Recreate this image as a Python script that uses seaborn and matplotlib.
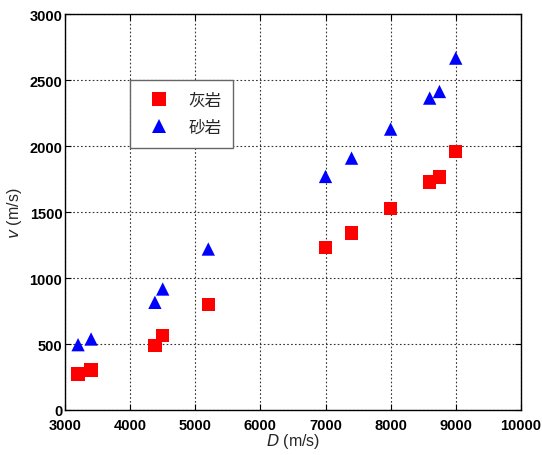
import matplotlib
matplotlib.use("Agg")
import matplotlib.pyplot as plt
import seaborn as sns
import pandas as pd

# Data
x_limestone = [3200, 3400, 4380, 4500, 5200, 7000, 7400, 8000, 8600, 8750, 9000]
v_limestone = [273, 303, 487, 563, 800, 1232, 1341, 1528, 1727, 1765, 1960]
x_sandstone = [3200, 3400, 4380, 4500, 5200, 7000, 7400, 8000, 8600, 8750, 9000]
v_sandstone = [495, 538, 816, 917, 1220, 1770, 1909, 2129, 2364, 2414, 2667]
series_names = ["灰岩", "砂岩"]
x_ticks = [3000, 4000, 5000, 6000, 7000, 8000, 9000, 10000]
y_ticks = [0, 500, 1000, 1500, 2000, 2500, 3000]

sns.set_theme(style="white")
plt.rcParams['font.family'] = ['Liberation Sans', 'Noto Sans CJK SC', 'DejaVu Sans']

df = pd.concat([
    pd.DataFrame({"D": x_limestone, "v": v_limestone, "rock": series_names[0]}),
    pd.DataFrame({"D": x_sandstone, "v": v_sandstone, "rock": series_names[1]}),
], ignore_index=True)

fig = plt.figure(figsize=(5.42, 4.56), dpi=100)
ax = fig.add_axes([0.120, 0.0987, 0.841, 0.868])

sns.scatterplot(data=df, x="D", y="v", hue="rock", style="rock",
                palette={series_names[0]: "#ff0000", series_names[1]: "#0000ff"},
                markers={series_names[0]: "s", series_names[1]: "^"},
                s=92, edgecolor="none", linewidth=0, ax=ax, zorder=3)

ax.set_xlim(3000, 10000)
ax.set_ylim(0, 3000)
ax.set_xticks(x_ticks)
ax.set_yticks(y_ticks)
ax.set_xticklabels([str(t) for t in x_ticks], fontweight="bold", fontsize=10.5)
ax.set_yticklabels([str(t) for t in y_ticks], fontweight="bold", fontsize=10.5)
ax.grid(True, color="#333333", linestyle=(0, (1.5, 2)), linewidth=0.8)
ax.set_axisbelow(True)
ax.tick_params(direction="in", length=4, width=0.8, top=True, right=True,
               bottom=True, left=True, colors="black")
ax.tick_params(axis="x", pad=6)
ax.tick_params(axis="y", pad=2)
for sp in ax.spines.values():
    sp.set_color("black")
    sp.set_linewidth(1.0)

ax.set_xlabel(r"$D$ (m/s)", fontsize=11.5, labelpad=-1)
ax.set_ylabel(r"$v$ (m/s)", fontsize=11.5, labelpad=4)

handles, labels = ax.get_legend_handles_labels()
leg = ax.legend(handles, labels, loc="upper left", bbox_to_anchor=(0.143, 0.833),
                frameon=True, fancybox=False, edgecolor="#666666", framealpha=1,
                prop={"family": ["Noto Sans CJK SC"], "size": 12},
                handletextpad=0.8, borderpad=0.7, labelspacing=0.6,
                borderaxespad=0)
leg.get_frame().set_linewidth(1.0)

fig.savefig("out.png", dpi=100)
